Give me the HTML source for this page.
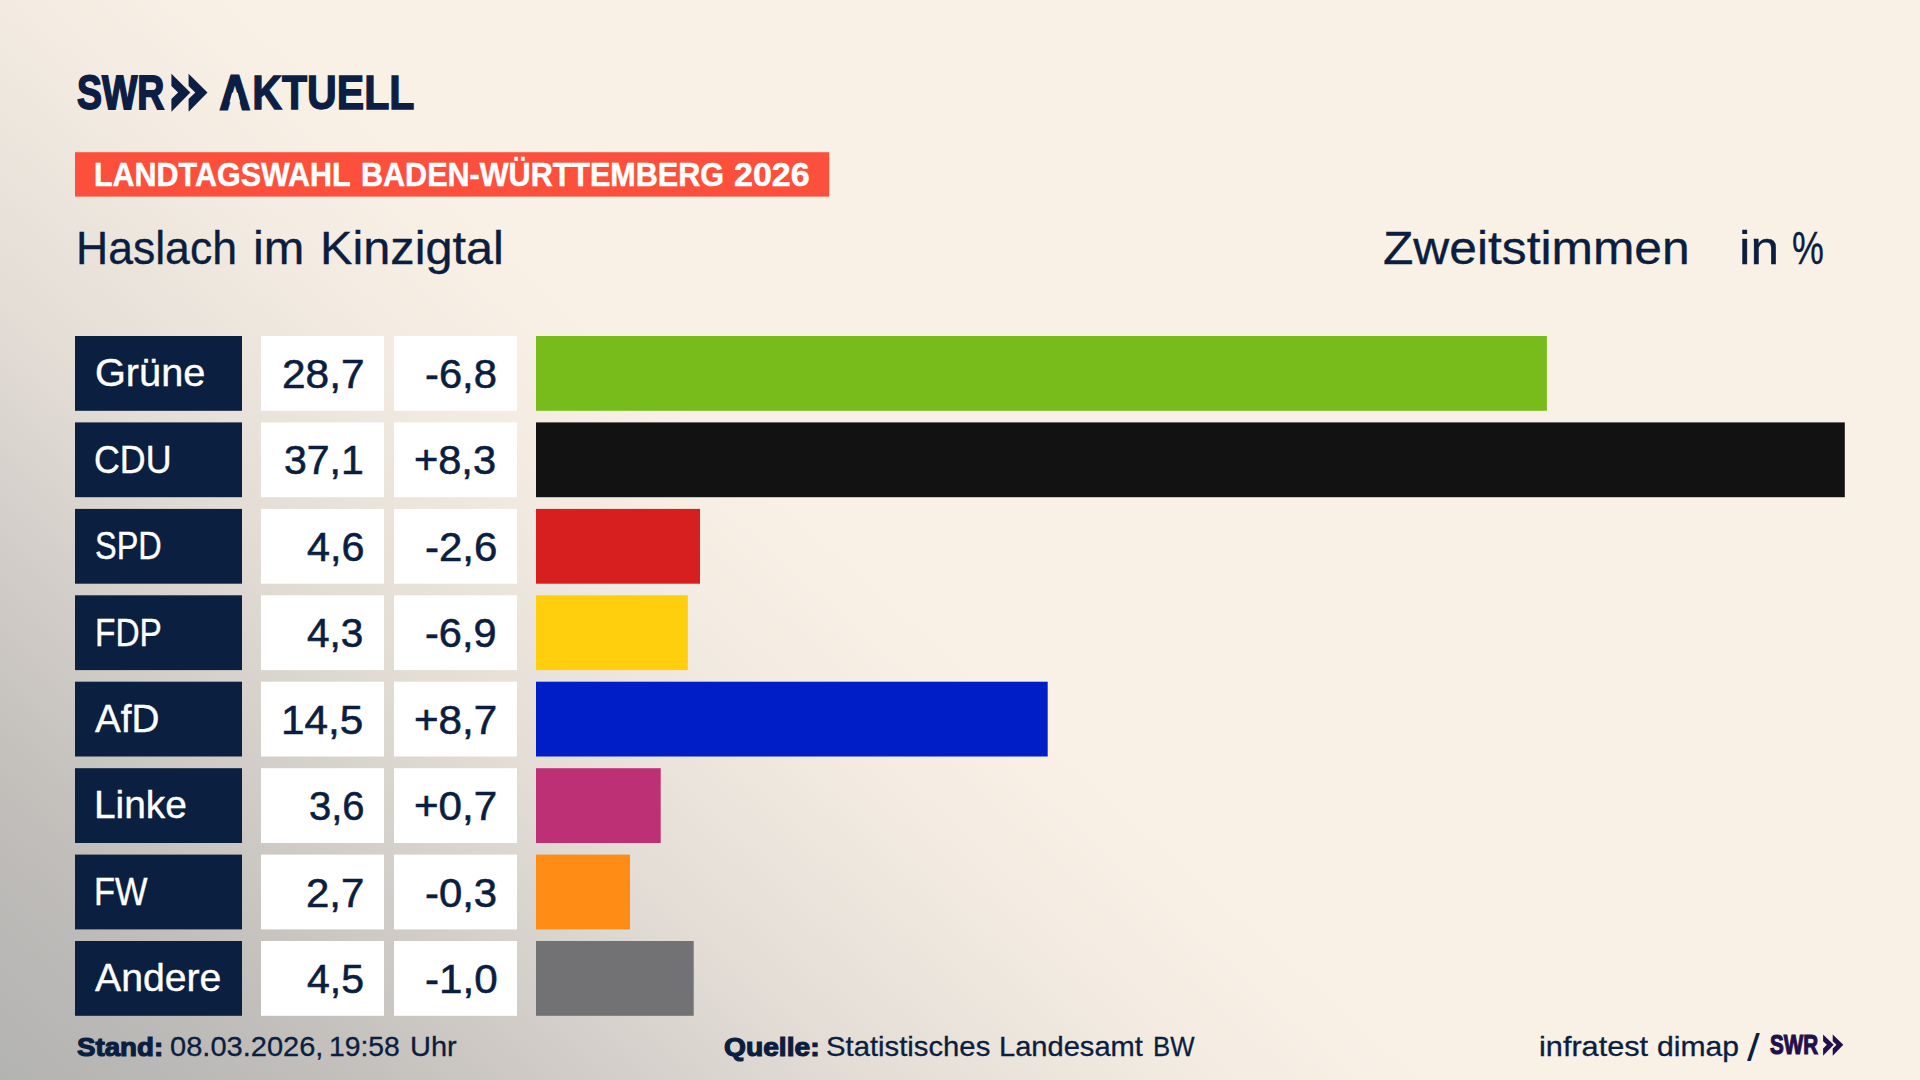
<!DOCTYPE html>
<html lang="de">
<head>
<meta charset="utf-8">
<title>Landtagswahl Baden-Württemberg 2026 – Haslach im Kinzigtal</title>
<style>
html,body{margin:0;padding:0;}
body{width:1920px;height:1080px;overflow:hidden;position:relative;
  font-family:"Liberation Sans",sans-serif;
  background:#f9f1e6 linear-gradient(42deg,#b3b3b2 0%,#c0bdba 10%,#d2cdc8 19.2%,#e3ddd6 27.8%,#f3ebe1 38.4%,#f9f1e6 46%,#f9f1e6 100%);}
#gfx{position:absolute;left:0;top:0;width:1920px;height:1080px;}
.t{position:absolute;white-space:nowrap;transform-origin:0 0;display:block;}
</style>
</head>
<body>
<svg id="gfx" viewBox="0 0 1920 1080" width="1920" height="1080">
<rect x="75" y="152.2" width="754.2" height="44.4" fill="#fd503c"/>
<rect x="75.0" y="336.0" width="167.0" height="74.8" fill="#0b1f41"/>
<rect x="261.0" y="336.0" width="123.0" height="74.8" fill="#ffffff"/>
<rect x="394.0" y="336.0" width="123.0" height="74.8" fill="#ffffff"/>
<rect x="536.0" y="336.0" width="1010.9" height="74.8" fill="#78bc1b"/>
<rect x="75.0" y="422.4" width="167.0" height="74.8" fill="#0b1f41"/>
<rect x="261.0" y="422.4" width="123.0" height="74.8" fill="#ffffff"/>
<rect x="394.0" y="422.4" width="123.0" height="74.8" fill="#ffffff"/>
<rect x="536.0" y="422.4" width="1308.8" height="74.8" fill="#121212"/>
<rect x="75.0" y="508.9" width="167.0" height="74.8" fill="#0b1f41"/>
<rect x="261.0" y="508.9" width="123.0" height="74.8" fill="#ffffff"/>
<rect x="394.0" y="508.9" width="123.0" height="74.8" fill="#ffffff"/>
<rect x="536.0" y="508.9" width="164.0" height="74.8" fill="#d71f1f"/>
<rect x="75.0" y="595.3" width="167.0" height="74.8" fill="#0b1f41"/>
<rect x="261.0" y="595.3" width="123.0" height="74.8" fill="#ffffff"/>
<rect x="394.0" y="595.3" width="123.0" height="74.8" fill="#ffffff"/>
<rect x="536.0" y="595.3" width="151.8" height="74.8" fill="#ffce0c"/>
<rect x="75.0" y="681.7" width="167.0" height="74.8" fill="#0b1f41"/>
<rect x="261.0" y="681.7" width="123.0" height="74.8" fill="#ffffff"/>
<rect x="394.0" y="681.7" width="123.0" height="74.8" fill="#ffffff"/>
<rect x="536.0" y="681.7" width="511.7" height="74.8" fill="#001ec8"/>
<rect x="75.0" y="768.2" width="167.0" height="74.8" fill="#0b1f41"/>
<rect x="261.0" y="768.2" width="123.0" height="74.8" fill="#ffffff"/>
<rect x="394.0" y="768.2" width="123.0" height="74.8" fill="#ffffff"/>
<rect x="536.0" y="768.2" width="124.7" height="74.8" fill="#be3075"/>
<rect x="75.0" y="854.6" width="167.0" height="74.8" fill="#0b1f41"/>
<rect x="261.0" y="854.6" width="123.0" height="74.8" fill="#ffffff"/>
<rect x="394.0" y="854.6" width="123.0" height="74.8" fill="#ffffff"/>
<rect x="536.0" y="854.6" width="94.0" height="74.8" fill="#ff8c14"/>
<rect x="75.0" y="941.0" width="167.0" height="74.8" fill="#0b1f41"/>
<rect x="261.0" y="941.0" width="123.0" height="74.8" fill="#ffffff"/>
<rect x="394.0" y="941.0" width="123.0" height="74.8" fill="#ffffff"/>
<rect x="536.0" y="941.0" width="157.7" height="74.8" fill="#727274"/>
<polygon points="171.40,73.70 171.40,85.90 178.10,92.40 171.40,98.90 171.40,111.70 190.30,92.40" fill="#0c1e44"/>
<polygon points="188.60,73.70 188.60,85.90 195.30,92.40 188.60,98.90 188.60,111.70 207.50,92.40" fill="#0c1e44"/>
<polygon points="1823.10,1034.40 1823.10,1041.23 1826.85,1044.87 1823.10,1048.51 1823.10,1055.68 1833.68,1044.87" fill="#241048"/>
<polygon points="1832.73,1034.40 1832.73,1041.23 1836.48,1044.87 1832.73,1048.51 1832.73,1055.68 1843.32,1044.87" fill="#241048"/>
</svg>
<header>
<span class="t" style="left:76.92px;top:68.00px;font-size:48.11px;line-height:48.11px;color:#0c1e44;font-weight:700;transform:scaleX(0.7783);-webkit-text-stroke:1.8px #0c1e44;">SWR</span>
<span class="t" style="left:219.94px;top:68.00px;font-size:48.26px;line-height:48.26px;color:#0c1e44;font-weight:700;transform:scaleX(0.8522);-webkit-text-stroke:1.4px #0c1e44;"><span style="-webkit-text-stroke:2.8px #0c1e44;margin-right:3px">A</span>KTUELL</span>
<span class="t" style="left:94.32px;top:158.00px;font-size:33.79px;line-height:33.79px;color:#ffffff;font-weight:700;transform:scaleX(0.9017);-webkit-text-stroke:0.5px #ffffff;">LANDTAGSWAHL</span>
<span class="t" style="left:361.42px;top:158.00px;font-size:33.79px;line-height:33.79px;color:#ffffff;font-weight:700;transform:scaleX(0.9040);-webkit-text-stroke:0.5px #ffffff;">BADEN-WÜRTTEMBERG</span>
<span class="t" style="left:733.84px;top:158.00px;font-size:33.79px;line-height:33.79px;color:#ffffff;font-weight:700;transform:scaleX(1.0073);-webkit-text-stroke:0.5px #ffffff;">2026</span>
<span class="t" style="left:76.32px;top:226.00px;font-size:45.86px;line-height:45.86px;color:#0b1e3f;transform:scaleX(0.9714);-webkit-text-stroke:0.35px #0b1e3f;">Haslach</span>
<span class="t" style="left:253.25px;top:226.00px;font-size:45.86px;line-height:45.86px;color:#0b1e3f;transform:scaleX(1.0623);-webkit-text-stroke:0.35px #0b1e3f;">im</span>
<span class="t" style="left:319.50px;top:226.00px;font-size:45.86px;line-height:45.86px;color:#0b1e3f;transform:scaleX(1.0608);-webkit-text-stroke:0.35px #0b1e3f;">Kinzigtal</span>
<span class="t" style="left:1382.86px;top:226.00px;font-size:45.86px;line-height:45.86px;color:#0b1e3f;transform:scaleX(1.0843);-webkit-text-stroke:0.35px #0b1e3f;">Zweitstimmen</span>
<span class="t" style="left:1738.58px;top:226.00px;font-size:45.86px;line-height:45.86px;color:#0b1e3f;transform:scaleX(1.1215);-webkit-text-stroke:0.35px #0b1e3f;">in</span>
<span class="t" style="left:1792.36px;top:226.00px;font-size:45.86px;line-height:45.86px;color:#0b1e3f;transform:scaleX(0.7814);-webkit-text-stroke:0.35px #0b1e3f;">%</span>
</header>
<main>
<div class="row">
<span class="t" style="left:94.78px;top:354.00px;font-size:38.66px;line-height:38.66px;color:#ffffff;transform:scaleX(1.0267);-webkit-text-stroke:0.4px #ffffff;">Grüne</span>
<span class="t" style="left:281.67px;top:353.00px;font-size:41.57px;line-height:41.57px;color:#0b1e3f;transform:scaleX(1.0194);-webkit-text-stroke:0.6px #0b1e3f;">28,7</span>
<span class="t" style="left:425.30px;top:353.00px;font-size:41.57px;line-height:41.57px;color:#0b1e3f;transform:scaleX(1.0028);-webkit-text-stroke:0.6px #0b1e3f;">-6,8</span>
</div>
<div class="row">
<span class="t" style="left:94.36px;top:441.00px;font-size:38.66px;line-height:38.66px;color:#ffffff;transform:scaleX(0.9261);-webkit-text-stroke:0.4px #ffffff;">CDU</span>
<span class="t" style="left:284.31px;top:439.00px;font-size:41.57px;line-height:41.57px;color:#0b1e3f;transform:scaleX(0.9864);-webkit-text-stroke:0.6px #0b1e3f;">37,1</span>
<span class="t" style="left:414.30px;top:439.00px;font-size:41.57px;line-height:41.57px;color:#0b1e3f;transform:scaleX(0.9996);-webkit-text-stroke:0.6px #0b1e3f;">+8,3</span>
</div>
<div class="row">
<span class="t" style="left:95.13px;top:527.00px;font-size:38.66px;line-height:38.66px;color:#ffffff;transform:scaleX(0.8388);-webkit-text-stroke:0.4px #ffffff;">SPD</span>
<span class="t" style="left:307.00px;top:526.00px;font-size:41.57px;line-height:41.57px;color:#0b1e3f;transform:scaleX(0.9937);-webkit-text-stroke:0.6px #0b1e3f;">4,6</span>
<span class="t" style="left:425.29px;top:526.00px;font-size:41.57px;line-height:41.57px;color:#0b1e3f;transform:scaleX(1.0099);-webkit-text-stroke:0.6px #0b1e3f;">-2,6</span>
</div>
<div class="row">
<span class="t" style="left:94.58px;top:614.00px;font-size:38.66px;line-height:38.66px;color:#ffffff;transform:scaleX(0.8639);-webkit-text-stroke:0.4px #ffffff;">FDP</span>
<span class="t" style="left:306.99px;top:612.00px;font-size:41.57px;line-height:41.57px;color:#0b1e3f;transform:scaleX(0.9745);-webkit-text-stroke:0.6px #0b1e3f;">4,3</span>
<span class="t" style="left:425.30px;top:612.00px;font-size:41.57px;line-height:41.57px;color:#0b1e3f;transform:scaleX(0.9985);-webkit-text-stroke:0.6px #0b1e3f;">-6,9</span>
</div>
<div class="row">
<span class="t" style="left:94.70px;top:700.00px;font-size:38.66px;line-height:38.66px;color:#ffffff;transform:scaleX(0.9996);-webkit-text-stroke:0.4px #ffffff;">AfD</span>
<span class="t" style="left:281.05px;top:699.00px;font-size:41.57px;line-height:41.57px;color:#0b1e3f;transform:scaleX(1.0171);-webkit-text-stroke:0.6px #0b1e3f;">14,5</span>
<span class="t" style="left:414.28px;top:699.00px;font-size:41.57px;line-height:41.57px;color:#0b1e3f;transform:scaleX(1.0134);-webkit-text-stroke:0.6px #0b1e3f;">+8,7</span>
</div>
<div class="row">
<span class="t" style="left:93.58px;top:786.00px;font-size:38.66px;line-height:38.66px;color:#ffffff;transform:scaleX(1.0055);-webkit-text-stroke:0.4px #ffffff;">Linke</span>
<span class="t" style="left:308.83px;top:785.00px;font-size:41.57px;line-height:41.57px;color:#0b1e3f;transform:scaleX(0.9616);-webkit-text-stroke:0.6px #0b1e3f;">3,6</span>
<span class="t" style="left:414.28px;top:785.00px;font-size:41.57px;line-height:41.57px;color:#0b1e3f;transform:scaleX(1.0134);-webkit-text-stroke:0.6px #0b1e3f;">+0,7</span>
</div>
<div class="row">
<span class="t" style="left:93.91px;top:873.00px;font-size:38.66px;line-height:38.66px;color:#ffffff;transform:scaleX(0.8895);-webkit-text-stroke:0.4px #ffffff;">FW</span>
<span class="t" style="left:305.78px;top:872.00px;font-size:41.57px;line-height:41.57px;color:#0b1e3f;transform:scaleX(1.0097);-webkit-text-stroke:0.6px #0b1e3f;">2,7</span>
<span class="t" style="left:424.80px;top:872.00px;font-size:41.57px;line-height:41.57px;color:#0b1e3f;transform:scaleX(1.0057);-webkit-text-stroke:0.6px #0b1e3f;">-0,3</span>
</div>
<div class="row">
<span class="t" style="left:94.70px;top:959.00px;font-size:38.66px;line-height:38.66px;color:#ffffff;transform:scaleX(1.0141);-webkit-text-stroke:0.4px #ffffff;">Andere</span>
<span class="t" style="left:306.80px;top:958.00px;font-size:41.57px;line-height:41.57px;color:#0b1e3f;transform:scaleX(0.9867);-webkit-text-stroke:0.6px #0b1e3f;">4,5</span>
<span class="t" style="left:424.79px;top:958.00px;font-size:41.57px;line-height:41.57px;color:#0b1e3f;transform:scaleX(1.0142);-webkit-text-stroke:0.6px #0b1e3f;">-1,0</span>
</div>
</main>
<footer>
<span class="t" style="left:76.87px;top:1034.00px;font-size:26.6px;line-height:26.6px;color:#0b1e3f;font-weight:700;transform:scaleX(1.0411);-webkit-text-stroke:1.2px #0b1e3f;">Stand:</span>
<span class="t" style="left:169.50px;top:1033.00px;font-size:27.33px;line-height:27.33px;color:#0b1e3f;transform:scaleX(1.0628);-webkit-text-stroke:0.3px #0b1e3f;">08.03.2026,</span>
<span class="t" style="left:329.38px;top:1033.00px;font-size:27.33px;line-height:27.33px;color:#0b1e3f;transform:scaleX(1.0363);-webkit-text-stroke:0.3px #0b1e3f;">19:58</span>
<span class="t" style="left:410.24px;top:1033.00px;font-size:27.33px;line-height:27.33px;color:#0b1e3f;transform:scaleX(1.0608);-webkit-text-stroke:0.3px #0b1e3f;">Uhr</span>
<span class="t" style="left:723.88px;top:1034.00px;font-size:26.6px;line-height:26.6px;color:#0b1e3f;font-weight:700;transform:scaleX(1.0600);-webkit-text-stroke:1.2px #0b1e3f;">Quelle:</span>
<span class="t" style="left:826.29px;top:1033.00px;font-size:27.33px;line-height:27.33px;color:#0b1e3f;transform:scaleX(1.0708);-webkit-text-stroke:0.3px #0b1e3f;">Statistisches</span>
<span class="t" style="left:999.13px;top:1033.00px;font-size:27.33px;line-height:27.33px;color:#0b1e3f;transform:scaleX(1.0641);-webkit-text-stroke:0.3px #0b1e3f;">Landesamt</span>
<span class="t" style="left:1153.06px;top:1033.00px;font-size:27.33px;line-height:27.33px;color:#0b1e3f;transform:scaleX(0.9429);-webkit-text-stroke:0.3px #0b1e3f;">BW</span>
<span class="t" style="left:1539.05px;top:1033.00px;font-size:27.33px;line-height:27.33px;color:#0b1e3f;transform:scaleX(1.1226);-webkit-text-stroke:0.3px #0b1e3f;">infratest</span>
<span class="t" style="left:1656.56px;top:1033.00px;font-size:27.33px;line-height:27.33px;color:#0b1e3f;transform:scaleX(1.1015);-webkit-text-stroke:0.3px #0b1e3f;">dimap</span>
<span class="t" style="left:1746.60px;top:1028.00px;font-size:39.53px;line-height:39.53px;color:#0b1e3f;transform:scaleX(1.1636);">/</span>
<span class="t" style="left:1770.16px;top:1031.00px;font-size:27.18px;line-height:27.18px;color:#241048;font-weight:700;transform:scaleX(0.7588);-webkit-text-stroke:1.2px #241048;">SWR</span>
</footer>
<svg id="gfx2" viewBox="0 0 1920 1080" width="1920" height="1080" style="position:absolute;left:0;top:0;pointer-events:none">
<polygon points="232.0,92.8 237.8,92.8 240.2,102.3 229.5,102.3" fill="#f8efe6"/>
</svg>
</body>
</html>
